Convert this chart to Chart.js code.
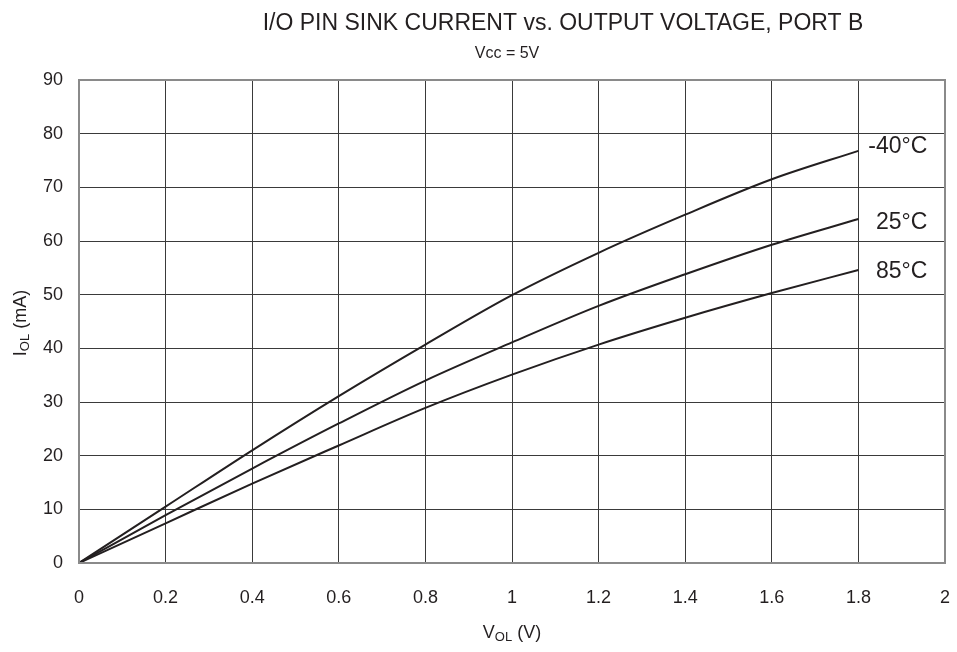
<!DOCTYPE html>
<html>
<head>
<meta charset="utf-8">
<script src="https://cdn.jsdelivr.net/npm/chart.js@4/dist/chart.umd.min.js"></script>
<style>
  html,body{margin:0;padding:0;background:#fff;}
  #c{display:block;}
</style>
</head>
<body>
<canvas id="c" width="957" height="652"></canvas>
<script>
/* chart data */
var voltage = [0, 0.2, 0.4, 0.6, 0.8, 1.0, 1.2, 1.4, 1.6, 1.8];
var curM40 = [0, 10.5, 21.0, 31.1, 40.7, 49.9, 57.8, 64.9, 71.5, 76.8];
var cur25  = [0, 8.9, 17.6, 26.0, 34.0, 41.1, 47.9, 53.8, 59.3, 64.1];
var cur85  = [0, 7.4, 14.8, 21.9, 28.9, 35.1, 40.7, 45.7, 50.3, 54.6];
var seriesLabels = ['-40°C', '25°C', '85°C'];
var xTicks = [0, 0.2, 0.4, 0.6, 0.8, 1, 1.2, 1.4, 1.6, 1.8, 2];
var yTicks = [0, 10, 20, 30, 40, 50, 60, 70, 80, 90];

var FONT = '"Liberation Sans", Arial, sans-serif';
var INK = '#231f20';

function pts(ys){
  return voltage.map(function(v, i){ return {x: v, y: ys[i]}; });
}

function lineSet(label, ys){
  return {
    label: label,
    data: pts(ys),
    borderColor: INK,
    borderWidth: 2,
    pointRadius: 0,
    fill: false,
    cubicInterpolationMode: 'monotone'
  };
}

// text with a subscript in the middle: [base, sub, rest]
function drawSubText(ctx, parts, x, y, size){
  var base = size + 'px ' + FONT, small = Math.round(size * 0.72) + 'px ' + FONT;
  ctx.font = base; var w1 = ctx.measureText(parts[0]).width;
  ctx.font = small; var w2 = ctx.measureText(parts[1]).width;
  ctx.font = base; var w3 = ctx.measureText(parts[2]).width;
  var sx = x - (w1 + w2 + w3) / 2;
  ctx.textAlign = 'left';
  ctx.textBaseline = 'middle';
  ctx.font = base; ctx.fillText(parts[0], sx, y);
  ctx.font = small; ctx.fillText(parts[1], sx + w1, y + size * 0.25);
  ctx.font = base; ctx.fillText(parts[2], sx + w1 + w2, y);
}

var decorPlugin = {
  id: 'decor',
  afterDraw: function(chart){
    var ctx = chart.ctx, a = chart.chartArea;
    ctx.save();
    // frame
    ctx.strokeStyle = '#8a8a8a';
    ctx.lineWidth = 2;
    ctx.strokeRect(a.left, a.top, a.right - a.left, a.bottom - a.top);
    ctx.fillStyle = INK;
    // titles
    ctx.textAlign = 'center';
    ctx.textBaseline = 'middle';
    ctx.font = '23px ' + FONT;
    ctx.fillText('I/O PIN SINK CURRENT vs. OUTPUT VOLTAGE, PORT B', 563, 24);
    ctx.font = '16px ' + FONT;
    ctx.fillText('Vcc = 5V', 507, 54);
    // x axis title
    drawSubText(ctx, ['V', 'OL', ' (V)'], (a.left + a.right) / 2, 633, 18);
    // y axis title
    ctx.save();
    ctx.translate(21, 323);
    ctx.rotate(-Math.PI / 2);
    drawSubText(ctx, ['I', 'OL', ' (mA)'], 0, 0, 18);
    ctx.restore();
    // curve labels at line ends
    var offs = [-4, 4, 2];
    ctx.font = '23px ' + FONT;
    ctx.textAlign = 'right';
    ctx.textBaseline = 'middle';
    chart.data.datasets.forEach(function(ds, i){
      var meta = chart.getDatasetMeta(i);
      var p = meta.data[meta.data.length - 1];
      ctx.fillText(seriesLabels[i], p.x + 69, p.y + offs[i]);
    });
    ctx.restore();
  }
};

new Chart(document.getElementById('c'), {
  type: 'line',
  data: {
    datasets: [
      lineSet(seriesLabels[0], curM40),
      lineSet(seriesLabels[1], cur25),
      lineSet(seriesLabels[2], cur85)
    ]
  },
  options: {
    responsive: false,
    animation: false,
    devicePixelRatio: 1,
    layout: {padding: {top: 80, right: 12, left: 0, bottom: 0}},
    plugins: {
      legend: {display: false},
      tooltip: {enabled: false},
      title: {display: false}
    },
    scales: {
      x: {
        type: 'linear',
        min: 0, max: 2,
        afterBuildTicks: function(s){ s.ticks = xTicks.map(function(v){ return {value: v}; }); },
        afterFit: function(s){ s.height = 89; s.paddingLeft = 0; s.paddingRight = 0; },
        grid: {color: '#3a3a3a', lineWidth: 1, drawTicks: false},
        border: {display: false},
        ticks: {
          padding: 24,
          color: INK,
          font: {family: FONT, size: 18},
          maxRotation: 0,
          callback: function(v){ return String(Number(v.toFixed(1))); }
        }
      },
      y: {
        min: 0, max: 90,
        afterBuildTicks: function(s){ s.ticks = yTicks.map(function(v){ return {value: v}; }); },
        afterFit: function(s){ s.width = 79; s.paddingTop = 0; s.paddingBottom = 0; },
        grid: {color: '#3a3a3a', lineWidth: 1, drawTicks: false},
        border: {display: false},
        ticks: {
          padding: 16,
          color: INK,
          font: {family: FONT, size: 18}
        }
      }
    }
  },
  plugins: [decorPlugin]
});
</script>
</body>
</html>
